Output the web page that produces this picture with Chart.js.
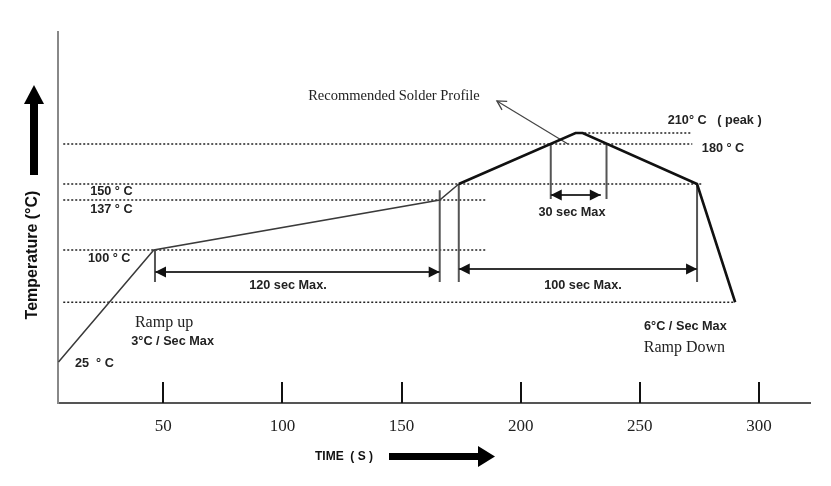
<!DOCTYPE html>
<html><head><meta charset="utf-8">
<script src="https://cdn.jsdelivr.net/npm/chart.js@4/dist/chart.umd.min.js"></script>
<style>html,body{margin:0;padding:0;background:#fff}canvas{display:block}</style>
</head><body>
<canvas id="c" width="831" height="486"></canvas>
<script>
// ===================== DATA =====================
const xTickValues = [50, 100, 150, 200, 250, 300];           // time axis labels (s)

// Recommended solder profile: time (s) and temperature (°C)
const profileTime = [6, 46, 166, 174, 223, 226, 274, 290];
const profileTemp = [25, 100, 137, 150, 210, 210, 150, 65];
const reflowStartIndex = 3;                                   // from 150 °C on the line is drawn heavy

// Dotted reference levels (°C) and the time span each one covers
const guideTemp  = [210, 180, 150, 137, 100, 65];
const guideFrom  = [225, 8, 8, 8, 8, 8];
const guideTo    = [272, 272, 276.6, 185.8, 185.8, 290];

// Vertical marker lines: time, upper and lower temperature
const markerTime   = [46.5, 166, 174, 274, 212.6, 236];
const markerTop    = [100, 145, 150, 150, 180, 180];
const markerBottom = [78.6, 78.6, 78.6, 78.6, 137.8, 137.8];

// Duration arrows: start / end time and temperature level
const spanFrom = [46.5, 174, 212.6];
const spanTo   = [166, 274, 233.6];
const spanTemp = [85.3, 87.3, 141.1];

// Pointer to the profile curve (tail on the curve, head at the caption)
const pointerTime = [219.8, 190];
const pointerTemp = [180, 222.7];

// Axis warping: the drawing is schematic, each temperature level has its own height
const levelTemp = [25, 100, 137, 150, 180, 210, 250];
const levelUnit = [41, 153, 203, 219, 259, 270, 371];

function warp(T) {
  const n = levelTemp.length;
  let i = 0;
  if (T <= levelTemp[0]) i = 0;
  else if (T >= levelTemp[n - 1]) i = n - 2;
  else { while (T > levelTemp[i + 1]) i++; }
  const t0 = levelTemp[i], t1 = levelTemp[i + 1], u0 = levelUnit[i], u1 = levelUnit[i + 1];
  return u0 + (T - t0) * (u1 - u0) / (t1 - t0);
}
const pt = (t, T) => ({ x: t, y: warp(T) });

// ===================== FONTS / STYLE =====================
const SANS_B = 'bold 12.7px "Liberation Sans", Arial, sans-serif';
const SERIF = '16px "Liberation Serif", "Times New Roman", serif';

// Text annotations (placed in data coordinates)
const notes = [
  { text: '150 ° C', t: 19.3, T: 143.9, font: SANS_B, align: 'left' },
  { text: '137 ° C', t: 19.3, T: 130.3, font: SANS_B, align: 'left' },
  { text: '100 ° C', t: 18.4, T: 94.0, font: SANS_B, align: 'left' },
  { text: '25  ° C', t: 12.9, T: 23.7, font: SANS_B, align: 'left' },
  { text: 'Ramp up', t: 50.3, T: 51.1, font: SERIF, align: 'center' },
  { text: '3°C / Sec Max', t: 53.9, T: 38.4, font: SANS_B, align: 'center' },
  { text: '120 sec Max.', t: 102.3, T: 75.9, font: SANS_B, align: 'center' },
  { text: '100 sec Max.', t: 226.1, T: 75.9, font: SANS_B, align: 'center' },
  { text: '30 sec Max', t: 221.5, T: 127.4, font: SANS_B, align: 'center' },
  { text: '210° C   ( peak )', t: 261.7, T: 215.1, font: SANS_B, align: 'left' },
  { text: '180 ° C', t: 276, T: 177, font: SANS_B, align: 'left' },
  { text: '6°C / Sec Max', t: 269.1, T: 49.1, font: SANS_B, align: 'center' },
  { text: 'Ramp Down', t: 268.7, T: 34.4, font: SERIF, align: 'center' },
  { text: 'Recommended Solder Profile', t: 146.8, T: 224.7, font: '14.5px "Liberation Serif", "Times New Roman", serif', align: 'center' }
];

// ===================== DATASETS =====================
const base = { showLine: true, pointRadius: 0, pointHoverRadius: 0, tension: 0, fill: false, clip: false };
const datasets = [];

datasets.push(Object.assign({}, base, {
  data: profileTime.slice(reflowStartIndex).map((t, i) => pt(t, profileTemp[i + reflowStartIndex])),
  borderColor: '#111', borderWidth: 2.6, borderJoinStyle: 'miter'
}));
datasets.push(Object.assign({}, base, {
  data: profileTime.slice(0, reflowStartIndex + 1).map((t, i) => pt(t, profileTemp[i])),
  borderColor: '#3a3a3a', borderWidth: 1.5
}));
datasets.push(Object.assign({}, base, {
  data: [pt(pointerTime[0], pointerTemp[0]), pt(pointerTime[1], pointerTemp[1])],
  borderColor: '#444', borderWidth: 1.2, heads: ['end'], headStyle: 'open'
}));
spanFrom.forEach((s, i) => datasets.push(Object.assign({}, base, {
  data: [pt(s, spanTemp[i]), pt(spanTo[i], spanTemp[i])],
  borderColor: '#333', borderWidth: 2, heads: ['start', 'end'], headStyle: 'filled'
})));
markerTime.forEach((t, i) => datasets.push(Object.assign({}, base, {
  data: [pt(t, markerTop[i]), pt(t, markerBottom[i])],
  borderColor: '#555', borderWidth: 2
})));
guideTemp.forEach((T, i) => datasets.push(Object.assign({}, base, {
  data: [pt(guideFrom[i], T), pt(guideTo[i], T)],
  borderColor: '#222', borderWidth: 1.5, borderDash: [2, 2]
})));

// ===================== DRAWING HELPERS =====================
function drawHead(ctx, from, to, style) {
  const a = Math.atan2(to.y - from.y, to.x - from.x);
  const L = style === 'open' ? 9 : 11, W = style === 'open' ? 5 : 5.5;
  const bx = to.x - L * Math.cos(a), by = to.y - L * Math.sin(a);
  const nx = -Math.sin(a) * W, ny = Math.cos(a) * W;
  ctx.beginPath();
  ctx.moveTo(bx + nx, by + ny);
  ctx.lineTo(to.x, to.y);
  ctx.lineTo(bx - nx, by - ny);
  if (style === 'open') {
    ctx.strokeStyle = '#444'; ctx.lineWidth = 1.3; ctx.stroke();
  } else {
    ctx.closePath(); ctx.fillStyle = '#111'; ctx.fill();
  }
}

const overlay = {
  id: 'overlay',
  afterDatasetsDraw(chart) {
    const { ctx, chartArea: a, scales: { x, y } } = chart;
    ctx.save();
    // tick marks standing on the time axis
    ctx.strokeStyle = '#111'; ctx.lineWidth = 2;
    xTickValues.forEach(v => {
      const px = Math.round(x.getPixelForValue(v));
      ctx.beginPath(); ctx.moveTo(px, a.bottom); ctx.lineTo(px, a.bottom - 21); ctx.stroke();
    });
    // arrow heads
    chart.data.datasets.forEach((ds, i) => {
      if (!ds.heads) return;
      const p = chart.getDatasetMeta(i).data;
      const p0 = p[0], p1 = p[p.length - 1];
      if (ds.heads.includes('start')) drawHead(ctx, p1, p0, ds.headStyle);
      if (ds.heads.includes('end')) drawHead(ctx, p0, p1, ds.headStyle);
    });
    // text notes
    ctx.fillStyle = '#222'; ctx.textBaseline = 'middle';
    notes.forEach(n => {
      ctx.font = n.font; ctx.textAlign = n.align;
      ctx.fillText(n.text, x.getPixelForValue(n.t), y.getPixelForValue(warp(n.T)));
    });
    // y axis caption with thick arrow
    const cx = a.left - 24;
    ctx.save();
    ctx.translate(cx - 1, 255);
    ctx.rotate(-Math.PI / 2);
    ctx.font = 'bold 16px "Liberation Sans", Arial, sans-serif';
    ctx.textAlign = 'center'; ctx.fillStyle = '#111';
    ctx.fillText('Temperature (°C)', 0, 0);
    ctx.restore();
    ctx.fillStyle = '#000';
    ctx.fillRect(cx - 4, 102, 8, 73);
    ctx.beginPath(); ctx.moveTo(cx, 85); ctx.lineTo(cx + 10, 104); ctx.lineTo(cx - 10, 104); ctx.closePath(); ctx.fill();
    // time axis caption with thick arrow
    ctx.font = 'bold 12px "Liberation Sans", Arial, sans-serif';
    ctx.textAlign = 'left'; ctx.fillStyle = '#111';
    ctx.fillText('TIME  ( S )', 315, 457);
    ctx.fillStyle = '#000';
    ctx.fillRect(389, 453, 90, 7);
    ctx.beginPath(); ctx.moveTo(478, 446); ctx.lineTo(495, 456.5); ctx.lineTo(478, 467); ctx.closePath(); ctx.fill();
    ctx.restore();
  }
};

// ===================== CHART =====================
Chart.defaults.font.family = '"Liberation Sans", Arial, sans-serif';
new Chart(document.getElementById('c'), {
  type: 'line',
  data: { datasets },
  options: {
    responsive: false, animation: false, devicePixelRatio: 1,
    layout: { padding: { top: 32, right: 21, left: 0, bottom: 0 } },
    plugins: { legend: { display: false }, tooltip: { enabled: false } },
    events: [],
    scales: {
      x: {
        type: 'linear', min: 5.8, max: 321.4,
        afterBuildTicks: s => { s.ticks = xTickValues.map(v => ({ value: v })); },
        afterFit: s => { s.height = 83; },
        grid: { display: false, drawTicks: false },
        border: { display: true, color: '#555', width: 2 },
        ticks: { padding: 13, autoSkip: false, maxRotation: 0, color: '#222',
                 font: { family: '"Liberation Serif", "Times New Roman", serif', size: 17 } }
      },
      y: {
        type: 'linear', min: 0, max: 371,
        afterFit: s => { s.width = 58; },
        grid: { display: false, drawTicks: false },
        border: { display: true, color: '#888', width: 2 },
        ticks: { display: false }
      }
    }
  },
  plugins: [overlay]
});
</script>
</body></html>
